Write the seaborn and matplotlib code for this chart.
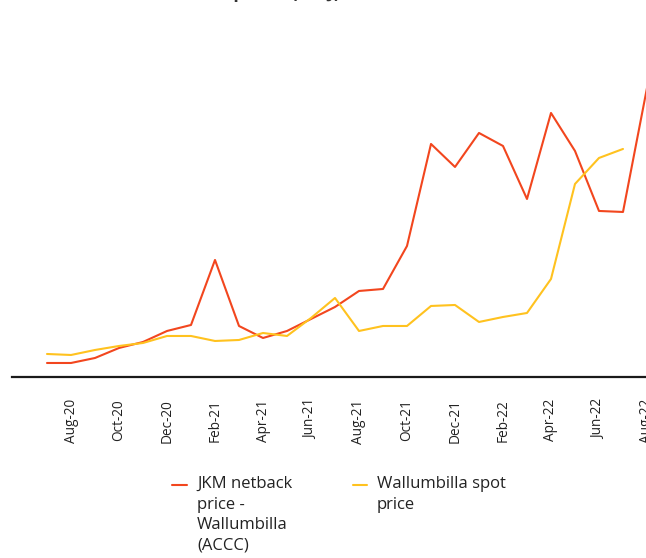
import numpy as np
import pandas as pd
import seaborn as sns
import matplotlib.pyplot as plt
from matplotlib.lines import Line2D

# Dados ($/GJ aproximado)
meses = ['Jul-20', 'Aug-20', 'Sep-20', 'Oct-20', 'Nov-20', 'Dec-20',
         'Jan-21', 'Feb-21', 'Mar-21', 'Apr-21', 'May-21', 'Jun-21',
         'Jul-21', 'Aug-21', 'Sep-21', 'Oct-21', 'Nov-21', 'Dec-21',
         'Jan-22', 'Feb-22', 'Mar-22', 'Apr-22', 'May-22', 'Jun-22',
         'Jul-22', 'Aug-22']
jkm_netback = [2.8, 2.8, 3.8, 5.8, 7.0, 9.2, 10.4, 23.4, 10.2, 7.8, 9.2, 11.6,
               14.0, 17.2, 17.6, 26.2, 46.6, 42.0, 48.8, 46.2, 35.6, 52.8, 45.2,
               33.2, 33.0, 57.8]
wallumbilla_spot = [4.6, 4.4, 5.4, 6.2, 6.8, 8.2, 8.2, 7.2, 7.4, 8.8, 8.2, 11.8,
                    15.8, 9.2, 10.2, 10.2, 14.2, 14.4, 11.0, 12.0, 12.8, 19.6,
                    38.6, 43.8, 45.6, np.nan]

rotulo_jkm = 'JKM netback\nprice -\nWallumbilla\n(ACCC)'
rotulo_wal = 'Wallumbilla spot\nprice'
cor_jkm = '#F2461E'
cor_wal = '#FFC21F'

df = pd.DataFrame({'mes': range(len(meses)),
                   'jkm': jkm_netback,
                   'wal': wallumbilla_spot})

sns.set_style('white')
plt.rcParams['font.family'] = ['Open Sans', 'DejaVu Sans']

fig = plt.figure(figsize=(6.46, 5.58), dpi=100)
ax = fig.add_axes([0.0186, 0.3244, 1.0186, 0.604])

sns.lineplot(data=df, x='mes', y='jkm', color=cor_jkm, linewidth=1.5, ax=ax)
sns.lineplot(data=df, x='mes', y='wal', color=cor_wal, linewidth=1.5, ax=ax)

ax.set_xlim(-1.458, 25.96)
ax.set_ylim(0, 67.4)
ax.set_xticks(range(1, len(meses), 2))
ax.set_xticklabels(meses[1::2], rotation=90, fontsize=9.8, color='#222222')
ax.tick_params(axis='x', length=0, pad=16)
ax.set_yticks([])
ax.set_xlabel('')
ax.set_ylabel('')
for lado in ['top', 'right', 'left']:
    ax.spines[lado].set_visible(False)
ax.spines['bottom'].set_color('#1a1a1a')
ax.spines['bottom'].set_linewidth(1.6)

# título cortado no topo da imagem original
fig.text(340 / 646, 1 + 2.5 / 558, 'Gas prices ($/GJ)', ha='right', va='baseline',
         fontsize=13, fontweight='bold', color='#333333')

# legenda: traço no topo, texto alinhado em cima
W, H = 646, 558
for x0, x1, xt, cor, txt in [(172, 187, 197, cor_jkm, rotulo_jkm),
                             (353, 367, 377, cor_wal, rotulo_wal)]:
    fig.add_artist(Line2D([x0 / W, x1 / W], [1 - 485 / H, 1 - 485 / H],
                          color=cor, linewidth=1.5, transform=fig.transFigure))
    fig.text(xt / W, 1 - 476 / H, txt, ha='left', va='top', fontsize=12,
             color='#222222', linespacing=1.38)

plt.savefig('out.png', dpi=100)
